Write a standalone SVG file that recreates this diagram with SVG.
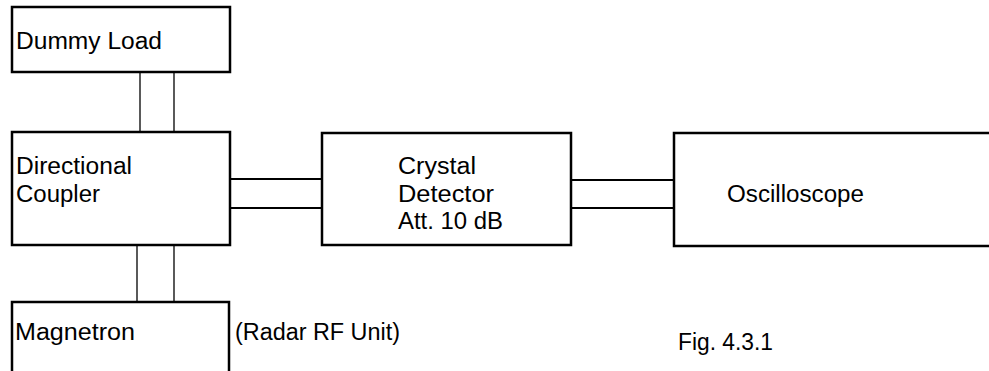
<svg xmlns="http://www.w3.org/2000/svg" width="989" height="371" viewBox="0 0 989 371">
<style>
.box{fill:#fff;stroke:#000;stroke-width:2.5}
.wg{fill:none;stroke:#000;stroke-width:2}
.stub{fill:none;stroke:#000;stroke-width:1.3}
text{font-family:"Liberation Sans",Arial,sans-serif;font-size:23.5px;fill:#000}
</style>
<rect width="989" height="371" fill="#fff"/>
<g id="connectors">
<line class="stub" x1="140" y1="72" x2="140" y2="132"/>
<line class="stub" x1="174" y1="72" x2="174" y2="132"/>
<line class="stub" x1="137" y1="245" x2="137" y2="302"/>
<line class="stub" x1="174" y1="245" x2="174" y2="302"/>
<line class="wg" x1="230" y1="179" x2="322" y2="179"/>
<line class="wg" x1="230" y1="208" x2="322" y2="208"/>
<line class="wg" x1="571" y1="180" x2="674" y2="180"/>
<line class="wg" x1="571" y1="208" x2="674" y2="208"/>
</g>
<g id="dummy-load">
<rect class="box" x="12" y="7" width="218" height="65"/>
<text x="16" y="49" textLength="146" lengthAdjust="spacingAndGlyphs">Dummy Load</text>
</g>
<g id="directional-coupler">
<rect class="box" x="12" y="132" width="218" height="113"/>
<text x="16" y="174" textLength="116" lengthAdjust="spacingAndGlyphs">Directional</text>
<text x="16" y="202" textLength="84" lengthAdjust="spacingAndGlyphs">Coupler</text>
</g>
<g id="magnetron">
<rect class="box" x="12" y="302" width="217" height="80"/>
<text x="15" y="340" textLength="120" lengthAdjust="spacingAndGlyphs">Magnetron</text>
</g>
<g id="crystal-detector">
<rect class="box" x="322" y="133" width="249" height="112"/>
<text x="398" y="174" textLength="78" lengthAdjust="spacingAndGlyphs">Crystal</text>
<text x="398" y="202" textLength="96" lengthAdjust="spacingAndGlyphs">Detector</text>
<text x="398" y="229" textLength="105" lengthAdjust="spacingAndGlyphs">Att. 10 dB</text>
</g>
<g id="oscilloscope">
<rect class="box" x="674" y="133" width="330" height="113"/>
<text x="727" y="202" textLength="137" lengthAdjust="spacingAndGlyphs">Oscilloscope</text>
</g>
<text x="235" y="340" textLength="165" lengthAdjust="spacingAndGlyphs">(Radar RF Unit)</text>
<text x="678" y="350" textLength="95" lengthAdjust="spacingAndGlyphs">Fig. 4.3.1</text>
</svg>
